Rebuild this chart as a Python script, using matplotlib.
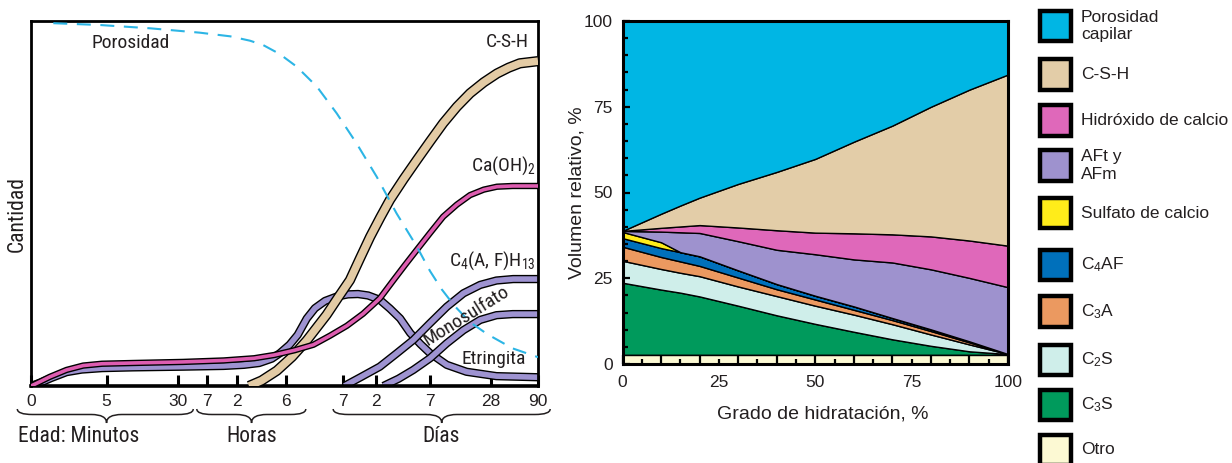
import numpy as np
import matplotlib
matplotlib.use("Agg")
import matplotlib.pyplot as plt
from matplotlib import font_manager
from matplotlib.patches import Rectangle, PathPatch
from matplotlib.path import Path
from matplotlib.transforms import blended_transform_factory
from matplotlib.ticker import FixedLocator, FuncFormatter

plt.rcParams["font.family"] = ["Liberation Sans", "DejaVu Sans"]
plt.rcParams["mathtext.default"] = "regular"

# the left panel uses a condensed face; fall back to a smaller regular one
_installed = {f.name for f in font_manager.fontManager.ttflist}
_narrow = [n for n in ["Liberation Sans Narrow", "Roboto Condensed", "Arial Narrow"]
           if n in _installed]
NARROW = _narrow[:1] + ["Liberation Sans", "DejaVu Sans"]
NSCALE = 1.0 if _narrow else 0.87
INK = "#231f20"

# ---------------- left panel: schematic evolution of hydration products
# x = position along the (non linear) age axis, 0..100 ; y = quantity, 0..100
AGE_TICKS = [0, 14.9, 29.0, 34.7, 40.6, 50.2, 61.6, 68.0, 78.7, 90.7, 100]
AGE_LABELS = ["0", "5", "30", "7", "2", "6", "7", "2", "7", "28", "90"]
AGE_GROUPS = ["Edad: Minutos", "Horas", "Días"]

POROSITY_X = [4.4, 13.6, 23.5, 33.3, 39.3, 43.2, 45.8, 49, 52.4, 56.4, 60.3, 64.2,
              68.2, 72.1, 76.1, 78.7, 81, 83.5, 86.5, 90, 95, 100]
POROSITY_Y = [99.4, 98.9, 98.0, 96.8, 95.8, 94.6, 93.4, 91, 87.5, 82, 74.7, 66.5,
              57.3, 47.3, 38.2, 31.5, 26.5, 22, 17.6, 14.2, 10.3, 7.9]

CSH_X = [43, 45.5, 48.5, 51.5, 54.4, 58.3, 60.7, 62.9, 64.9, 66.9, 68.9, 70.8,
         73.5, 76.1, 78.7, 81.3, 84, 86.6, 89.3, 91.9, 94.2, 96.4, 100]
CSH_Y = [0, 1.5, 4.2, 8, 12.5, 19.5, 24.5, 29, 35, 40.9, 46.2, 51,
         56.7, 61.9, 67, 72, 76.5, 80.2, 83.2, 85.6, 87.2, 88.4, 89]

CH_X = [0, 1.5, 3.7, 7, 10.3, 14, 20, 30, 38, 44, 48, 52, 55.7, 59, 62.3,
        65.5, 68.8, 71.5, 73.8, 76.1, 78.7, 81.3, 84, 86.6, 89.3, 91.9, 95, 100]
CH_Y = [0, 1.0, 2.5, 4.4, 5.6, 6.1, 6.3, 6.6, 7.0, 7.6, 8.5, 9.8, 11.3, 13.8, 16.5,
        19.8, 24, 29, 33.2, 37.3, 41.9, 46.4, 49.7, 52.3, 53.8, 54.6, 54.8, 54.8]

ETTR_X = [0, 2, 4, 7, 10, 14, 20, 30, 38, 42, 45, 47.5, 49.1, 51, 52.6, 54.4,
          56, 58, 60.3, 62.5, 64.5, 66.5, 68.8, 70.8, 72.8, 74.8, 76.8, 78.7,
          82, 85.9, 91.8, 100]
ETTR_Y = [0, 1.0, 2.2, 3.8, 4.5, 4.9, 5.1, 5.3, 5.5, 5.8, 6.3, 7.5, 9.0, 11.3,
          14, 18.5, 21.3, 23.3, 24.5, 25.1, 25.2, 24.8, 23.6, 21.2, 18.5, 14.5,
          11.5, 9, 5.8, 3.9, 2.7, 2.4]

C4AH13_X = [61.8, 65, 68.8, 72, 75.4, 78.7, 82, 85.3, 88.6, 91.8, 95.1, 100]
C4AH13_Y = [0, 2.4, 5.3, 8.8, 12.6, 17.2, 21.7, 25.4, 27.7, 28.9, 29.3, 29.3]

MONO_X = [69.5, 72.5, 75.4, 78.7, 82, 85.3, 88.6, 91.8, 95, 100]
MONO_Y = [0, 2.0, 4.4, 7.6, 11.7, 15.3, 18.1, 19.4, 19.7, 19.7]

# ---------------- right panel: relative volumes vs degree of hydration
HYDRATION = [0, 10, 15, 20, 30, 40, 50, 60, 70, 80, 90, 100]
otro = [2.7, 2.7, 2.7, 2.7, 2.7, 2.7, 2.7, 2.7, 2.7, 2.7, 2.7, 2.7]
c3s = [21.0, 19.0, 18.1, 17.0, 14.3, 11.5, 9.0, 6.7, 4.5, 2.6, 1.0, 0.2]
c2s = [6.4, 6.0, 5.8, 5.9, 5.6, 5.6, 5.3, 5.0, 4.4, 3.3, 2.0, 0.0]
c3a = [4.1, 3.5, 3.3, 3.0, 2.6, 2.0, 1.8, 1.4, 1.2, 1.0, 0.6, 0.0]
c4af = [2.5, 2.6, 2.7, 2.8, 2.1, 1.5, 1.1, 1.0, 0.6, 0.5, 0.3, 0.0]
sulfato = [1.8, 1.7, 0.0, 0.0, 0.0, 0.0, 0.0, 0.0, 0.0, 0.0, 0.0, 0.0]
aft_afm = [0.3, 3.1, 5.8, 6.8, 8.5, 10.0, 12.1, 13.7, 16.2, 17.5, 18.5, 19.5]
hidroxido = [0.0, 1.1, 1.7, 2.3, 4.0, 5.7, 6.3, 7.6, 8.2, 9.6, 10.9, 12.1]
csh = [0.0, 4.1, 6.1, 8.0, 12.7, 17.0, 21.5, 26.7, 31.7, 37.8, 44.0, 49.9]
porosidad = [61.2, 56.2, 53.8, 51.5, 47.5, 44.0, 40.2, 35.2, 30.5, 25.0, 20.0, 15.6]

LAYER_LABELS = ["Otro", "C$_3$S", "C$_2$S", "C$_3$A", "C$_4$AF", "Sulfato de calcio",
                "AFt y\nAFm", "Hidróxido de calcio", "C-S-H", "Porosidad\ncapilar"]
LAYER_COLORS = ["#fcf9d3", "#009a5c", "#cfeeea", "#eb9960", "#0070bb", "#ffec1a",
                "#9e92ce", "#df68ba", "#e3cda8", "#00b6e4"]

W, H = 1232, 463


def fx(px):
    return px / W


def fy(py):
    return (H - py) / H


def band(ax, x, y, color, width, z):
    ax.plot(x, y, color="black", lw=width, solid_capstyle="butt",
            solid_joinstyle="round", zorder=z)
    ax.plot(x, y, color=color, lw=width - 2.0, solid_capstyle="butt",
            solid_joinstyle="round", zorder=z + 0.1)


def brace(ax, fig, x0, xc, x1, top, mid, tip, d=3.0):
    tr = blended_transform_factory(ax.transData, fig.transFigure)
    verts = [(x0, top), (x0, mid), (x0 + d, mid), (xc - d, mid), (xc, mid), (xc, tip),
             (xc, mid), (xc + d, mid), (x1 - d, mid), (x1, mid), (x1, top)]
    codes = [Path.MOVETO, Path.CURVE3, Path.CURVE3, Path.LINETO, Path.CURVE3, Path.CURVE3,
             Path.CURVE3, Path.CURVE3, Path.LINETO, Path.CURVE3, Path.CURVE3]
    ax.add_patch(PathPatch(Path(verts, codes), transform=tr, fill=False,
                           edgecolor=INK, lw=1.1, clip_on=False))


fig = plt.figure(figsize=(W / 100, H / 100), dpi=100)

# ---------------- left panel
ax1 = fig.add_axes([fx(31), fy(386), fx(538) - fx(31), fy(21) - fy(386)])
ax1.set_xlim(0, 100)
ax1.set_ylim(0, 100)

band(ax1, ETTR_X, ETTR_Y, "#9e93d1", 6.0, 2)
band(ax1, C4AH13_X, C4AH13_Y, "#9e93d1", 6.0, 2.2)
band(ax1, MONO_X, MONO_Y, "#9e93d1", 6.0, 2.4)
band(ax1, CSH_X, CSH_Y, "#e3cba5", 7.4, 3)
band(ax1, CH_X, CH_Y, "#dd5db0", 4.6, 4)
ax1.plot(POROSITY_X, POROSITY_Y, color="#2cb5e5", lw=1.5, dashes=(6.7, 4.6), zorder=5)

ax1.set_xticks(AGE_TICKS)
ax1.set_xticklabels(AGE_LABELS)
ax1.set_yticks([])
ax1.tick_params(axis="x", direction="in", length=8, width=2.2, labelsize=12.5,
                pad=6, labelcolor=INK)
for side in ["top", "right", "left"]:
    ax1.spines[side].set_linewidth(2.0)
ax1.spines["bottom"].set_linewidth(2.6)

ax1.text(-0.028, 0.47, "Cantidad", transform=ax1.transAxes, rotation=90,
         ha="center", va="center", fontsize=15.5 * NSCALE, family=NARROW, color=INK)

lab = dict(fontsize=14 * NSCALE, family=NARROW, color=INK, zorder=6)
ax1.text(12.0, 94.1, "Porosidad", ha="left", va="center", **lab)
ax1.text(98.2, 94.3, "C-S-H", ha="right", va="center", **lab)
ax1.text(99.6, 60.3, "Ca(OH)$_2$", ha="right", va="center", **lab)
ax1.text(99.6, 34.3, "C$_4$(A, F)H$_{13}$", ha="right", va="center", **lab)
ax1.text(85.8, 19.2, "Monosulfato", ha="center", va="center", rotation=32, **lab)
ax1.text(91.3, 7.3, "Etringita", ha="center", va="center", **lab)

for x0, xc, x1 in [(-2.7, 14.9, 32.0), (32.7, 43.5, 54.2), (59.6, 81.0, 102.4)]:
    brace(ax1, fig, x0, xc, x1, fy(409), fy(414.5), fy(423))

grp = dict(fontsize=15.5 * NSCALE, family=NARROW, color=INK, va="center")
fig.text(fx(18), fy(437), AGE_GROUPS[0], ha="left", **grp)
fig.text(fx(252), fy(437), AGE_GROUPS[1], ha="center", **grp)
fig.text(fx(441), fy(437), AGE_GROUPS[2], ha="center", **grp)

# ---------------- right panel
ax2 = fig.add_axes([fx(622.5), fy(364), fx(1008) - fx(622.5), fy(21) - fy(364)])
ax2.stackplot(HYDRATION, otro, c3s, c2s, c3a, c4af, sulfato, aft_afm, hidroxido,
              csh, porosidad, colors=LAYER_COLORS, edgecolor="black", linewidth=1.0)
ax2.set_xlim(0, 100)
ax2.set_ylim(0, 100)

steps = np.arange(0, 101, 5)
fmt = FuncFormatter(lambda v, _: f"{v:.0f}" if round(v) % 25 == 0 else "")
ax2.xaxis.set_major_locator(FixedLocator(steps))
ax2.yaxis.set_major_locator(FixedLocator(steps))
ax2.xaxis.set_major_formatter(fmt)
ax2.yaxis.set_major_formatter(fmt)
ax2.tick_params(axis="x", direction="in", width=1.6, labelsize=12.5, pad=8, labelcolor=INK)
ax2.tick_params(axis="y", direction="in", width=1.6, labelsize=12.5, pad=7, labelcolor=INK)
for sp in ax2.spines.values():
    sp.set_linewidth(2.2)
    sp.set_zorder(5)

for t, v in zip(ax2.xaxis.get_major_ticks(), steps):
    t.tick1line.set_markersize(6.5 if v % 10 == 0 else 3.8)
for t, v in zip(ax2.yaxis.get_major_ticks(), steps):
    t.tick1line.set_markersize(4.8 if v % 25 == 0 else 3.6)

ax2.set_xlabel("Grado de hidratación, %", fontsize=14, color=INK)
ax2.xaxis.set_label_coords(0.52, -0.122)
ax2.set_ylabel("Volumen relativo, %", fontsize=14, color=INK)
ax2.yaxis.set_label_coords(-0.095, 0.5)

# ---------------- legend (top to bottom = top to bottom of the stack)
LEGEND_Y = [26, 74.5, 120.5, 165.5, 213, 265, 311.5, 360, 405, 450]
for label, color, yc in zip(LAYER_LABELS[::-1], LAYER_COLORS[::-1], LEGEND_Y):
    fig.add_artist(Rectangle((fx(1040.3), fy(yc + 15.2)), fx(30.5), fy(0) - fy(30.5),
                             transform=fig.transFigure, facecolor=color,
                             edgecolor="black", lw=3.2))
    fig.text(fx(1081), fy(yc), label, ha="left", va="center", fontsize=12.5,
             color=INK, linespacing=1.2)

fig.savefig("out.png", dpi=100)
